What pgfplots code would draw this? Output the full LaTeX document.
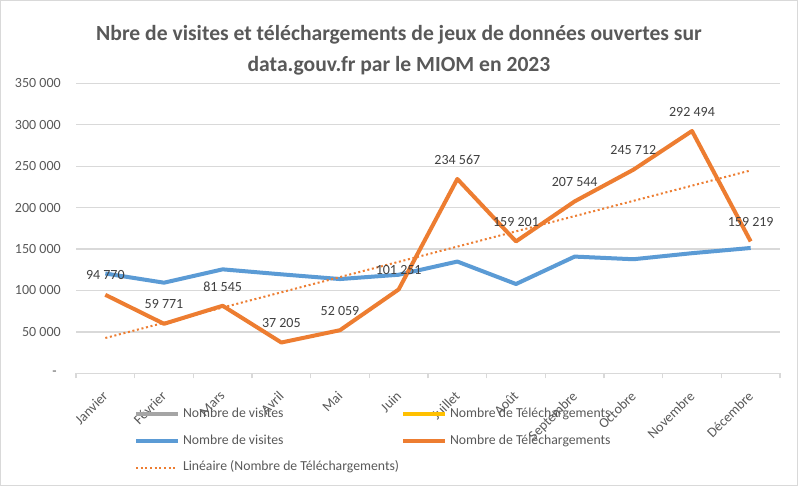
\documentclass[border=0pt]{standalone}
\usepackage{pgfplots}
\pgfplotsset{compat=1.18}
\usepackage{fontspec}
\setmainfont{Carlito}
\definecolor{cblue}{HTML}{5B9BD5}
\definecolor{corange}{HTML}{ED7D31}
\definecolor{cgrey}{HTML}{A5A5A5}
\definecolor{cyellow}{HTML}{FFC000}
\definecolor{gridc}{HTML}{D9D9D9}
\definecolor{txt}{HTML}{595959}
\definecolor{lbl}{HTML}{404040}
\begin{document}
\begin{tikzpicture}
\useasboundingbox (0,0) rectangle (598.5pt,364.5pt);
\fill[white] (0,0) rectangle (598.5pt,364.5pt);
\draw[gridc, line width=0.75pt] (0.375pt,0.375pt) rectangle (598.125pt,364.125pt);
\node[anchor=base, font=\fontsize{16.2}{20}\selectfont\bfseries, text=txt, inner sep=0pt] at (299.25pt,333.9pt) {Nbre de visites et téléchargements de jeux de données ouvertes sur};
\node[anchor=base, font=\fontsize{16.2}{20}\selectfont\bfseries, text=txt, inner sep=0pt] at (299.25pt,311pt) {data.gouv.fr par le MIOM en 2023};
\begin{axis}[
  at={(57pt,84.5pt)}, anchor=south west, scale only axis,
  width=528pt, height=217.5pt,
  xmin=0.5, xmax=12.5, ymin=0, ymax=350000,
  scaled y ticks=false,
  axis x line*=bottom, axis y line*=left,
  y axis line style={draw=none},
  x axis line style={gridc, line width=1pt},
  xtick={1,2,3,4,5,6,7,8,9,10,11,12},
  xticklabels={Janvier,Février,Mars,Avril,Mai,Juin,Juillet,Août,Septembre,Octobre,Novembre,Décembre},
  ytick={0,50000,100000,150000,200000,250000,300000,350000},
  yticklabels={{-\hspace*{3pt}},50~000,100~000,150~000,200~000,250~000,300~000,350~000},
  major tick length=0pt,
  extra x ticks={0.5,1.5,2.5,3.5,4.5,5.5,6.5,7.5,8.5,9.5,10.5,11.5,12.5},
  extra x tick labels={},
  extra x tick style={major tick length=3.75pt, tick align=outside, xmajorgrids=false, tick style={gridc, line width=1pt}},
  ymajorgrids, grid style={gridc, line width=1pt},
  tick label style={font=\fontsize{10.5}{12}\selectfont, text=txt},
  xticklabel style={xshift=-2.6pt, yshift=-12.5pt, rotate=45, anchor=north east, inner sep=0pt},
  yticklabel style={anchor=east, inner sep=0pt, xshift=-11.25pt},
  legend columns=2,
  legend cell align=left,
  legend style={at={(0.0824,-0.118)}, anchor=north west, draw=none, fill=none, inner sep=0pt, outer sep=0pt, column sep=2.25pt, row sep=10pt, font=\fontsize{10.3}{12}\selectfont, text=txt, nodes={inner sep=0pt, text height=7.5pt, text depth=2.5pt}},
  legend image code/.code={\draw[#1] (0pt,0pt) -- (31.5pt,0pt);},
]
\addlegendimage{cgrey, line width=3pt}
\addlegendentry{\makebox[161.25pt][l]{Nombre de visites}}
\addlegendimage{cyellow, line width=3pt}
\addlegendentry{Nombre de Téléchargements}
\addplot[cblue, line width=3pt, line join=round] coordinates {(1,120500)(2,109400)(3,125500)(4,119500)(5,113800)(6,119000)(7,134900)(8,107800)(9,140900)(10,137700)(11,145000)(12,151300)};
\addlegendentry{\makebox[161.25pt][l]{Nombre de visites}}
\addplot[corange, line width=3pt, line join=round, point meta=explicit symbolic, nodes near coords, nodes near coords style={anchor=center, yshift=14.6pt, font=\fontsize{10.5}{12}\selectfont, text=lbl, inner sep=0pt}] coordinates {(1,94770)[94~770] (2,59771)[59~771] (3,81545)[81~545] (4,37205)[37~205] (5,52059)[52~059] (6,101251)[101~251] (7,234567)[234~567] (8,159201)[159~201] (9,207544)[207~544] (10,245712)[245~712] (11,292494)[292~494] (12,159219)[159~219]};
\addlegendentry{Nombre de Téléchargements}
\addplot[corange, line width=1.5pt, dash pattern=on 1.5pt off 2pt] coordinates {(1,42642)(12,244914)};
\addlegendentry{\makebox[161.25pt][l]{Linéaire (Nombre de Téléchargements)}}
\end{axis}
\end{tikzpicture}
\end{document}
